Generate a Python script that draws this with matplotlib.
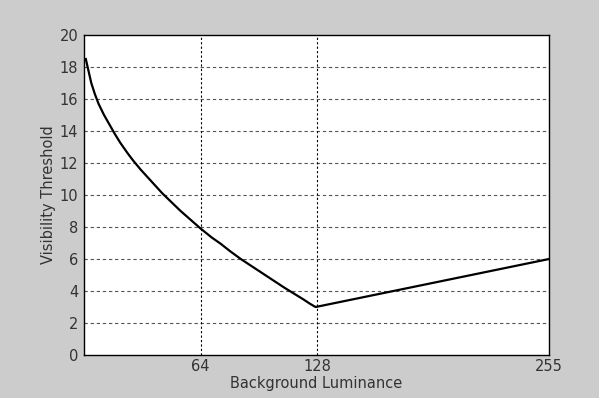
import matplotlib
matplotlib.use("Agg")
import matplotlib.pyplot as plt

# Visibility threshold vs background luminance
lum = [1, 2, 4, 6, 8, 11, 14, 17, 20, 24, 27, 31, 35, 39, 43, 48, 53, 58, 64,
       70, 75, 80, 86, 92, 98, 104, 110, 115, 120, 124, 127, 255]
thr = [18.5, 18.0, 17.0, 16.3, 15.7, 15.0, 14.4, 13.8, 13.25, 12.6, 12.15, 11.6,
       11.1, 10.6, 10.1, 9.55, 9.0, 8.5, 7.9, 7.35, 6.95, 6.5, 6.0, 5.55, 5.1,
       4.65, 4.2, 3.85, 3.5, 3.2, 3.0, 6.0]
xticks = [64, 128, 255]
yticks = list(range(0, 21, 2))

plt.rcParams['font.family'] = ['DejaVu Sans']

fig = plt.figure(figsize=(5.99, 3.98), dpi=100, facecolor='#cccccc')
ax = fig.add_axes([0.1402, 0.108, 0.7763, 0.804])
ax.set_facecolor('white')
ax.plot(lum, thr, color='black', linewidth=1.6)

ax.set_xlim(0, 255)
ax.set_ylim(0, 20)
ax.set_xticks(xticks)
ax.set_yticks(yticks)
ax.tick_params(direction='in', length=0, labelsize=10.5, colors='#333333', pad=4)
ax.tick_params(axis='x', pad=3)

# dashed horizontal grid (gray), dotted vertical grid (black)
for y in yticks[1:-1]:
    ax.axhline(y, color='#555555', linestyle=(0, (3, 2.5)), linewidth=0.8, zorder=0)
for x in xticks[:-1]:
    ax.axvline(x, color='black', linestyle=(0, (2, 2)), linewidth=0.8, zorder=0)

for s in ax.spines.values():
    s.set_color('black')
    s.set_linewidth(1.0)

ax.set_xlabel('Background Luminance', fontsize=10.5, color='#333333', labelpad=1)
ax.set_ylabel('Visibility Threshold', fontsize=10.5, color='#333333', labelpad=3)

fig.savefig('out.png', dpi=100, facecolor=fig.get_facecolor())
